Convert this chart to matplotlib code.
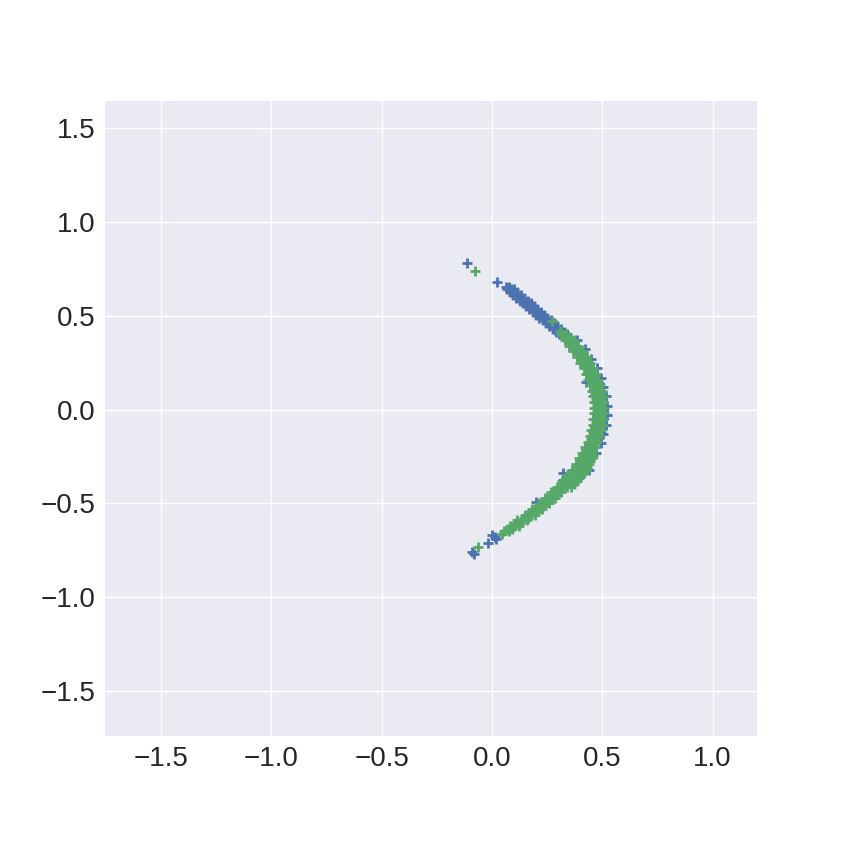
import matplotlib
matplotlib.use("Agg")
import matplotlib.pyplot as plt

# values, one row of points per y value
blue_row_y = [0.778, 0.680,
              0.655, 0.64, 0.625, 0.61, 0.595, 0.58, 0.565, 0.55, 0.535,
              0.52, 0.505, 0.49, 0.475, 0.46, 0.445, 0.43, 0.415, 0.40,
              0.37, 0.32, 0.27, 0.22, 0.17, 0.146, 0.12, 0.07, 0.02, -0.03,
              -0.08, -0.125, -0.13, -0.18, -0.23, -0.32, -0.34, -0.375,
              -0.385, -0.39, -0.49, -0.56,
              -0.67, -0.677, -0.69, -0.712, -0.756, -0.77]
blue_row_x = [[-0.115], [0.024],
              [0.065, 0.075], [0.07, 0.085, 0.10], [0.08, 0.097, 0.114],
              [0.095, 0.113, 0.131], [0.11, 0.128, 0.146], [0.125, 0.143, 0.161],
              [0.14, 0.158, 0.176], [0.155, 0.173, 0.191], [0.17, 0.188, 0.206],
              [0.185, 0.203, 0.221], [0.20, 0.218, 0.236], [0.215, 0.233, 0.251],
              [0.23, 0.248, 0.266], [0.245, 0.263, 0.281], [0.26, 0.278, 0.296],
              [0.275, 0.293, 0.311], [0.29, 0.308, 0.326], [0.305, 0.323, 0.341],
              [0.385], [0.42], [0.45], [0.475], [0.495], [0.425], [0.505],
              [0.515], [0.52], [0.52],
              [0.515], [0.495], [0.505], [0.495], [0.47], [0.44], [0.32],
              [0.32], [0.34], [0.35], [0.20], [0.163],
              [0.0], [0.014], [0.02], [-0.017], [-0.092], [-0.08]]

green_row_y = [0.737, 0.47, 0.42, 0.40, 0.385, 0.37, 0.355, 0.34, 0.325,
               0.31, 0.295, 0.28, 0.265, 0.25, 0.235, 0.22, 0.205, 0.19,
               0.175, 0.16, 0.145, 0.13, 0.115, 0.10, 0.085, 0.07, 0.055,
               0.04, 0.025, 0.01, -0.005, -0.02, -0.035, -0.05, -0.065,
               -0.08, -0.095, -0.11, -0.125, -0.14, -0.155, -0.17, -0.185,
               -0.20, -0.215, -0.23, -0.245, -0.26, -0.275, -0.29, -0.305,
               -0.32, -0.335, -0.35, -0.365, -0.38, -0.395, -0.41, -0.425,
               -0.44, -0.455, -0.47, -0.485, -0.50, -0.515, -0.53, -0.545,
               -0.56, -0.575, -0.59, -0.605, -0.62, -0.635, -0.645, -0.665,
               -0.73]
green_row_x = [[-0.078], [0.27], [0.31], [0.315, 0.335], [0.327, 0.347],
               [0.33, 0.35, 0.37], [0.349, 0.369], [0.348, 0.37, 0.392],
               [0.369, 0.389], [0.368, 0.39, 0.412], [0.388, 0.408],
               [0.385, 0.407, 0.429], [0.405, 0.425], [0.40, 0.422, 0.444],
               [0.42, 0.44], [0.415, 0.437, 0.459], [0.433, 0.453],
               [0.427, 0.449, 0.471], [0.444, 0.464], [0.437, 0.459, 0.481],
               [0.454, 0.474], [0.446, 0.468, 0.49], [0.462, 0.482],
               [0.453, 0.475, 0.497], [0.468, 0.488], [0.458, 0.48, 0.502],
               [0.472, 0.492], [0.461, 0.483, 0.505], [0.474, 0.494],
               [0.463, 0.485, 0.507], [0.475, 0.495], [0.463, 0.485, 0.507],
               [0.474, 0.494], [0.46, 0.482, 0.504], [0.471, 0.491],
               [0.457, 0.479, 0.501], [0.466, 0.486], [0.451, 0.473, 0.495],
               [0.459, 0.479], [0.443, 0.465, 0.487], [0.451, 0.471],
               [0.434, 0.456, 0.478], [0.441, 0.461], [0.423, 0.445, 0.467],
               [0.429, 0.449], [0.41, 0.432, 0.454], [0.415, 0.435, 0.457],
               [0.395, 0.417, 0.439, 0.455], [0.399, 0.419, 0.445],
               [0.379, 0.401, 0.423, 0.44], [0.382, 0.402, 0.43],
               [0.361, 0.383, 0.405, 0.425], [0.363, 0.383, 0.415],
               [0.34, 0.362, 0.384, 0.405], [0.342, 0.362, 0.395],
               [0.318, 0.34, 0.362, 0.385], [0.319, 0.339, 0.37],
               [0.295, 0.317, 0.339, 0.36], [0.294, 0.314],
               [0.268, 0.29, 0.312], [0.268, 0.288], [0.241, 0.263, 0.285],
               [0.24, 0.26], [0.213, 0.235, 0.257], [0.21, 0.23],
               [0.182, 0.204, 0.226], [0.178, 0.198], [0.149, 0.171, 0.193],
               [0.144, 0.164], [0.115, 0.137, 0.159], [0.109, 0.129],
               [0.08, 0.101, 0.122], [0.072, 0.092], [0.055, 0.075], [0.045],
               [-0.062]]

ticks = [-1.5, -1.0, -0.5, 0.0, 0.5, 1.0, 1.5]

blue_x, blue_y = [], []
for y, xs in zip(blue_row_y, blue_row_x):
    blue_x += xs
    blue_y += [y] * len(xs)

green_x, green_y = [], []
for y, xs in zip(green_row_y, green_row_x):
    green_x += xs
    green_y += [y] * len(xs)

plt.style.use("seaborn-v0_8")
plt.rcParams["font.family"] = ["Liberation Sans", "DejaVu Sans"]

fig = plt.figure(figsize=(8.41, 8.41), dpi=100)
fig.subplots_adjust(left=0.125, right=0.9, bottom=0.125, top=0.88)
ax = fig.add_subplot(111)

ax.scatter(blue_x, blue_y, marker="+", s=50, linewidths=2.0, color="#4C72B0")
ax.scatter(green_x, green_y, marker="+", s=50, linewidths=2.0, color="#55A868")

ax.set_xlim(-1.754, 1.201)
ax.set_ylim(-1.737, 1.643)
ax.set_xticks(ticks[:-1])
ax.set_yticks(ticks)
ax.tick_params(labelsize=20, pad=7)

fig.savefig("out.png", dpi=100)
